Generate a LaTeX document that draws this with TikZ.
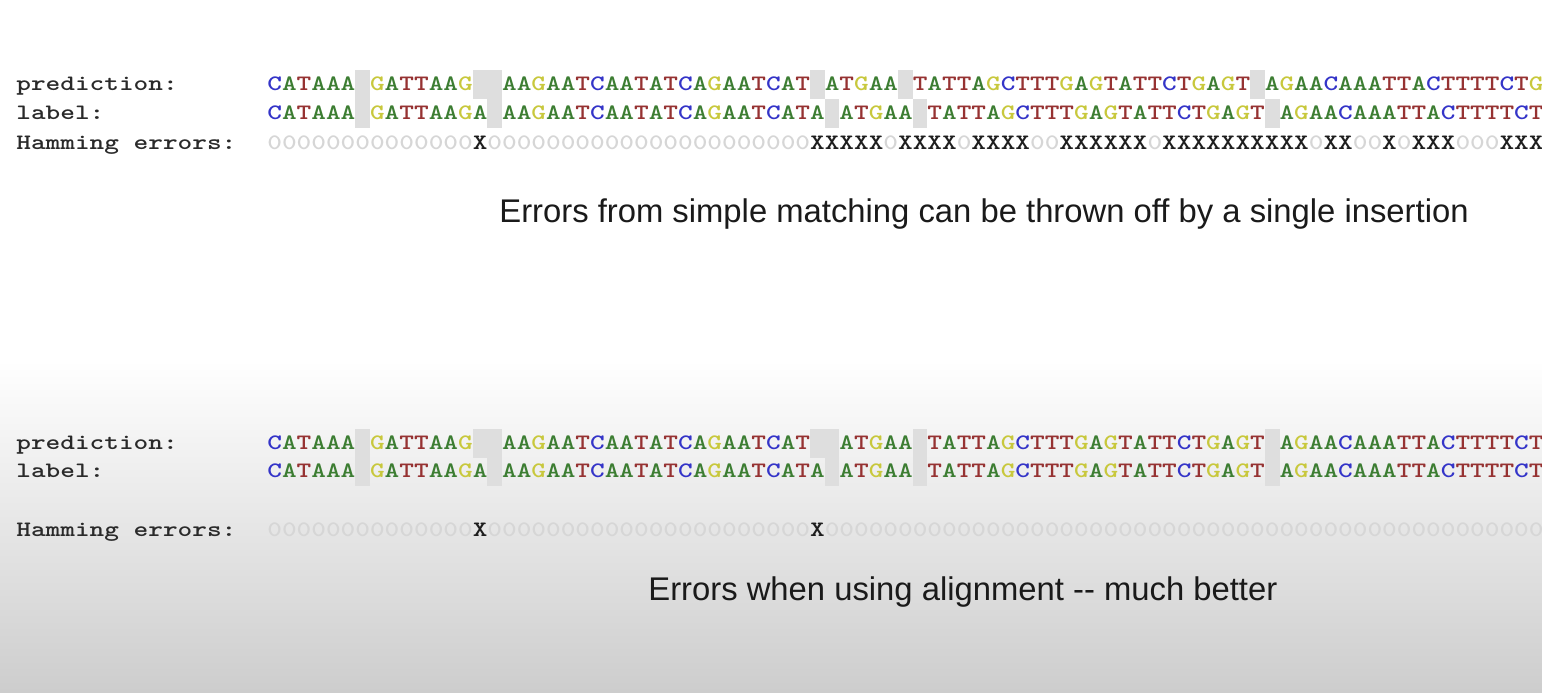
\documentclass[tikz,border=0pt]{standalone}
\usepackage{fontspec}
\usetikzlibrary{positioning}

\newfontfamily\capfont{Liberation Sans}
\newfontfamily\seqfont[FakeStretch=1.27]{lmmonolt10-bold.otf}

\definecolor{ntA}{HTML}{3C7D32}
\definecolor{ntC}{HTML}{3434C8}
\definecolor{ntG}{HTML}{C8C83C}
\definecolor{ntT}{HTML}{963232}
\definecolor{hamX}{HTML}{1E1E1E}
\definecolor{hamO}{HTML}{D6D6D6}
\definecolor{gapgray}{HTML}{DEDEDE}
\definecolor{labgray}{HTML}{2A2A2A}
\definecolor{capblack}{HTML}{1A1A1A}
\definecolor{bgbottom}{HTML}{CDCDCD}

% one coloured cell per character, '-' is a gap
\newcommand\gapcell{{\color{gapgray}\vrule width \fontcharwd\font`A height 10.25pt depth 4.25pt}}
\newcommand\seqchar[1]{%
  \if#1A\textcolor{ntA}{A}\fi
  \if#1C\textcolor{ntC}{C}\fi
  \if#1G\textcolor{ntG}{G}\fi
  \if#1T\textcolor{ntT}{T}\fi
  \if#1X\textcolor{hamX}{X}\fi
  \if#10\textcolor{hamO}{0}\fi
  \if#1-\gapcell\fi}
\def\seqstep#1{%
  \ifx\relax#1\else
    \seqchar{#1}%
    \expandafter\seqstep
  \fi}
\newcommand\seqrow[1]{\seqstep#1\relax}

\begin{document}
\begin{tikzpicture}[x=0.5pt, y=-0.5pt,
	seqtxt/.style={anchor=base west, inner sep=0pt, font=\seqfont\fontsize{11pt}{13pt}\selectfont},
	rowlab/.style={seqtxt, text=labgray},
	caption/.style={anchor=base west, inner sep=0pt, text=capblack, font=\capfont\fontsize{16.4pt}{19pt}\selectfont}]
	
	% ------------------------------------------------
	% Canvas and background
	\useasboundingbox (0,0) rectangle (1542,692);
	\clip (0,0) rectangle (1542,692);
	\fill[white] (0,0) rectangle (1542,692);
	\shade[top color=white, bottom color=bgbottom] (0,360) rectangle (1542,692);
	
	% ------------------------------------------------
	% Relevant coordinates
	\coordinate (SeqTop) at (267,90);
	\path (SeqTop) +(0,29)   coordinate (LabTop);
	\path (SeqTop) +(0,59)   coordinate (HamTop);
	
	\coordinate (SeqBot) at (267,449);
	\path (SeqBot) +(0,28)   coordinate (LabBot);
	\path (SeqBot) +(0,87)   coordinate (HamBot);
	
	% ----------------
	% Simple matching
	\node[rowlab] (PredTopName) at ([xshift=-125.5pt]SeqTop) {prediction:};
	\node[rowlab] (LabTopName)  at ([xshift=-125.5pt]LabTop) {label:};
	\node[rowlab] (HamTopName)  at ([xshift=-125.5pt]HamTop) {Hamming errors:};
	
	\node[seqtxt] (PredTop) at (SeqTop)
		{\seqrow{CATAAA-GATTAAG--AAGAATCAATATCAGAATCAT-ATGAA-TATTAGCTTTGAGTATTCTGAGT-AGAACAAATTACTTTTCTG}};
	\node[seqtxt] (LabTopSeq) at (LabTop)
		{\seqrow{CATAAA-GATTAAGA-AAGAATCAATATCAGAATCATA-ATGAA-TATTAGCTTTGAGTATTCTGAGT-AGAACAAATTACTTTTCT}};
	\node[seqtxt] (HamTopSeq) at (HamTop)
		{\seqrow{0000000 0000000 X 00000000000 00000000000 XXXXX 0 XXXX 0 XXXX 00 XXXXXX 0 XXXXXXXXXX 0 XX 00 X 0 XXX 000 XXX}};
	
	\node[caption] (CapTop) at (499,222) {Errors from simple matching can be thrown off by a single insertion};
	
	% ----------------
	% With alignment
	\node[rowlab] (PredBotName) at ([xshift=-125.5pt]SeqBot) {prediction:};
	\node[rowlab] (LabBotName)  at ([xshift=-125.5pt]LabBot) {label:};
	\node[rowlab] (HamBotName)  at ([xshift=-125.5pt]HamBot) {Hamming errors:};
	
	\node[seqtxt] (PredBot) at (SeqBot)
		{\seqrow{CATAAA-GATTAAG--AAGAATCAATATCAGAATCAT--ATGAA-TATTAGCTTTGAGTATTCTGAGT-AGAACAAATTACTTTTCT}};
	\node[seqtxt] (LabBotSeq) at (LabBot)
		{\seqrow{CATAAA-GATTAAGA-AAGAATCAATATCAGAATCATA-ATGAA-TATTAGCTTTGAGTATTCTGAGT-AGAACAAATTACTTTTCT}};
	\node[seqtxt] (HamBotSeq) at (HamBot)
		{\seqrow{0000000 0000000 X 00000000000 00000000000 X 0000000 0000000 0000000 0000000 0000000 0000000 0000000}};
	
	\node[caption] (CapBot) at (648,600) {Errors when using alignment -{}- much better};
	
\end{tikzpicture}
\end{document}
